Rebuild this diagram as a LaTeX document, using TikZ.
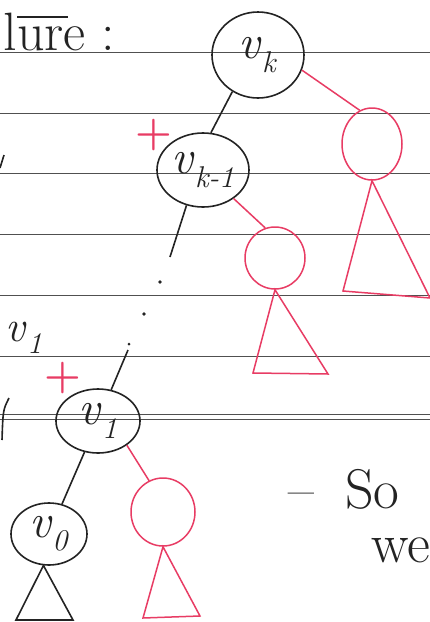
\documentclass[tikz,border=0pt]{standalone}
\usetikzlibrary{shapes.geometric}

\definecolor{pen}{RGB}{35,35,35}
\definecolor{redpen}{RGB}{232,60,100}
\definecolor{ruling}{RGB}{80,80,80}

\newcommand{\hv}[1]{\makebox[0pt]{\textit{v}\raisebox{-0.28em}{\fontsize{30}{30}\selectfont\textit{#1}}}}

\tikzset{
  vtx/.style={ellipse, draw=pen, line width=1.6pt, inner sep=0pt, text=pen},
  sub/.style={ellipse, draw=redpen, line width=1.5pt, inner sep=0pt},
  blk/.style={draw=pen, line width=1.6pt},
  redline/.style={draw=redpen, line width=1.5pt},
}

\begin{document}
\begin{tikzpicture}[x=1pt, y=-1pt, every node/.style={font=\fontsize{48}{52}\selectfont}]
  \fill[white] (0,0) rectangle (430,622);
  \useasboundingbox (0,0) rectangle (430,622);

  \foreach \y in {52,113,173,234,295,356,414,419}
    \draw[ruling, line width=0.9pt] (0,\y) -- (430,\y);

  \node[anchor=base west, text=pen, font=\fontsize{54}{58}\selectfont] (head) at (0,50) {l\makebox[0pt][l]{\rule[0.6em]{0.95em}{0.035em}}ure :};
  \node[text=pen, font=\fontsize{44}{48}\selectfont] (vone) at (24,338) {\hv{1}};
  \node[anchor=base west, text=pen, font=\fontsize{56}{60}\selectfont] (so) at (285,508) {--\hspace{0.55em}So};
  \node[anchor=base west, text=pen, font=\fontsize{56}{60}\selectfont] (we) at (368,562) {we};

  \node[vtx, minimum width=92pt, minimum height=86pt] (vk) at (258,55) {\hv{k}};
  \node[vtx, minimum width=92pt, minimum height=74pt] (vkm) at (203,170) {\hv{k-1}};
  \node[vtx, minimum width=84pt, minimum height=64pt] (v1) at (98,421) {\hv{1}};
  \node[vtx, minimum width=76pt, minimum height=62pt] (v0) at (49,534) {\hv{0}};

  \node[sub, minimum width=60pt, minimum height=72pt] (r1) at (372,144) {};
  \node[sub, minimum width=60pt, minimum height=62pt] (r2) at (275,258) {};
  \node[sub, minimum width=64pt, minimum height=68pt] (r3) at (163,512) {};

  \node[text=redpen, font=\fontsize{42}{46}\bfseries] (plusk) at (154,135) {+};
  \node[text=redpen, font=\fontsize{42}{46}\bfseries] (plus1) at (63,378) {+};

  \coordinate (gapA) at (170,257);
  \coordinate (gapB) at (128,350);

  \draw[blk] (vk.-125) -- (vkm.78);
  \draw[blk] (vkm.-115) -- (gapA);
  \fill[pen] (160,282) circle (1.8pt);
  \fill[pen] (144,314) circle (1.8pt);
  \fill[pen] (129,344) circle (1.5pt);
  \draw[blk] (gapB) -- (v1);
  \draw[blk] (v1) -- (v0);

  \draw[redline] (vk.-19) -- (r1.110);
  \draw[redline] (vkm.-43) -- (r2.108);
  \draw[redline] (v1.-40) -- (r3.114);

  \draw[redline] (r1.south) -- (343,291) -- (430,298) -- cycle;
  \draw[redline] (r2.south) -- (253,373) -- (328,374) -- cycle;
  \draw[redline] (r3.south) -- (143,618) -- (200,616) -- cycle;
  \draw[blk] (v0.-100) -- (16,620) -- (73,620) -- cycle;

  \draw[blk] (4,155) -- (0,168);
  \draw[blk] (9,398) .. controls (3,410) .. (2,440);
\end{tikzpicture}
\end{document}
